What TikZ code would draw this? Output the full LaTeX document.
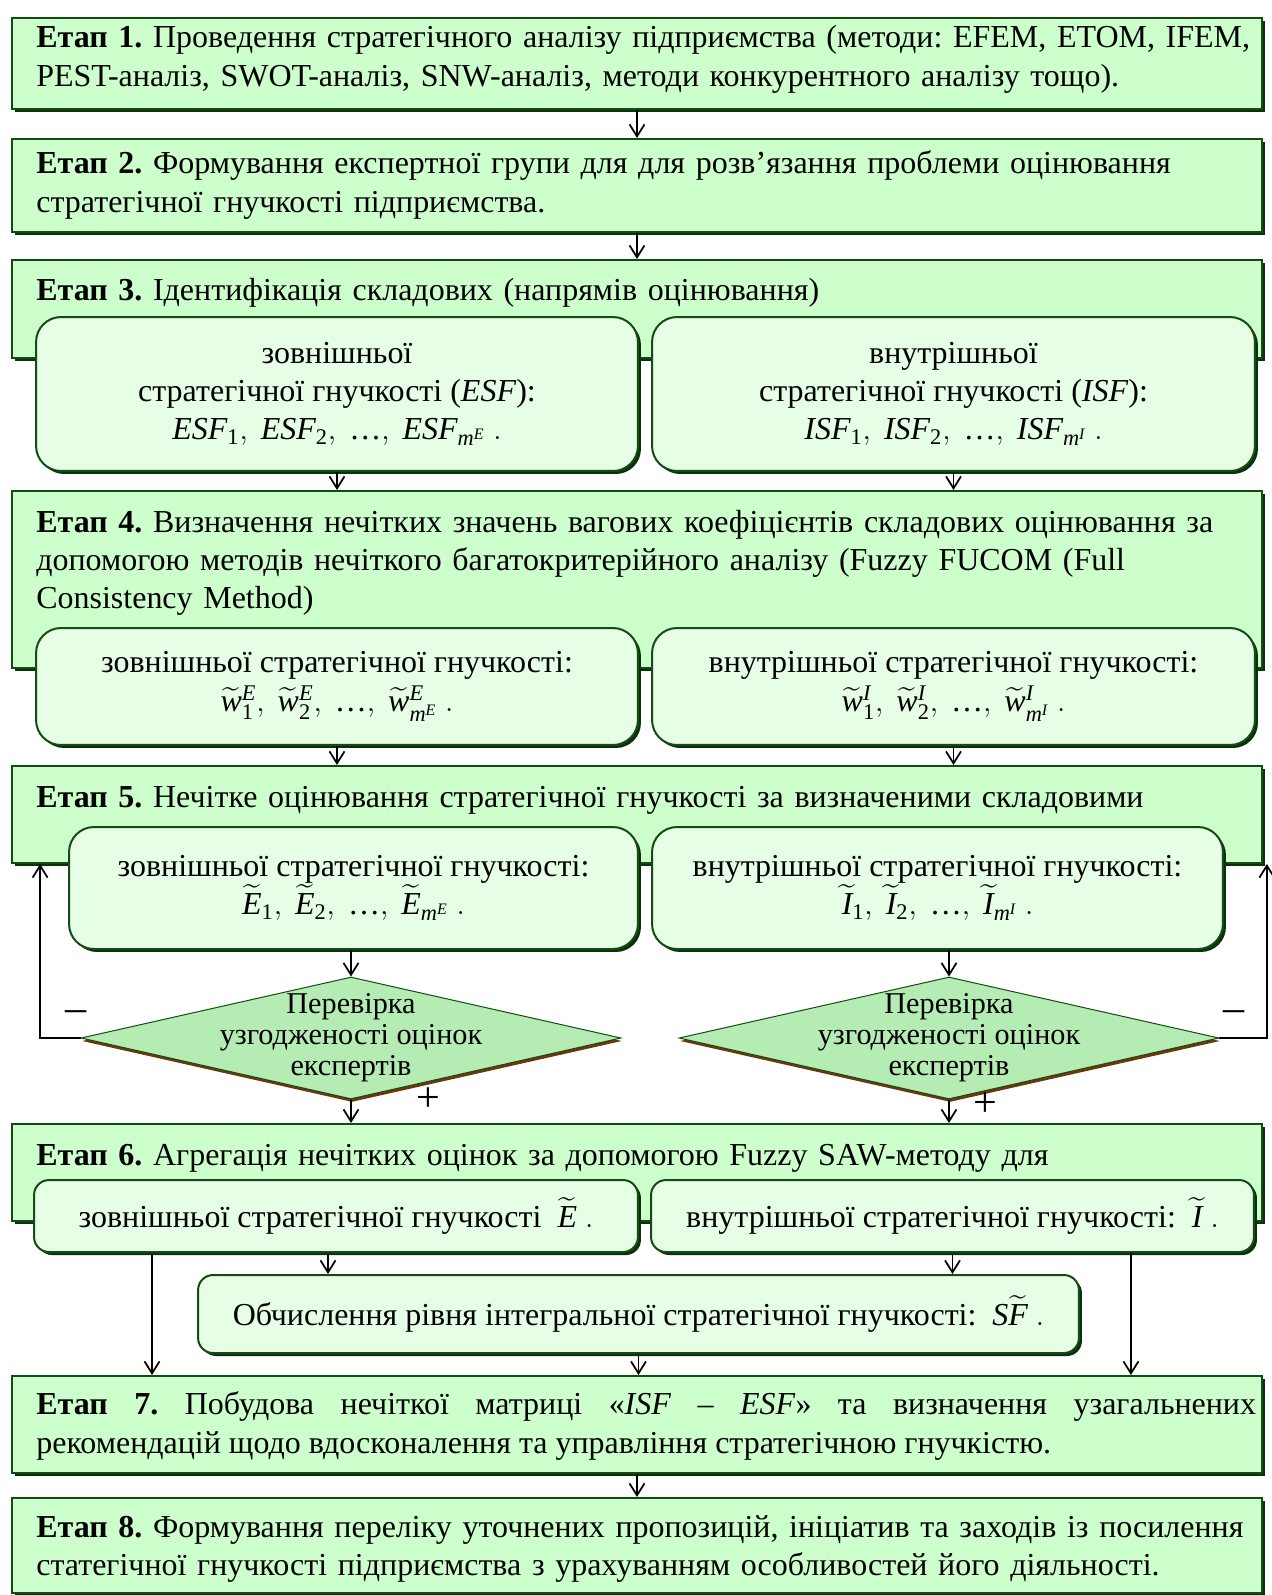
\documentclass[tikz,border=0pt]{standalone}
\usepackage{fontspec}
\usepackage{amsmath}
\setmainfont{Liberation Serif}
\frenchspacing
\usetikzlibrary{arrows.meta,shapes.geometric,shadows}
\definecolor{stagefill}{RGB}{204,255,204}
\definecolor{subfill}{RGB}{230,253,230}
\definecolor{checkfill}{RGB}{180,236,180}
\definecolor{edgegreen}{RGB}{20,75,20}
\definecolor{shadegreen}{RGB}{10,50,10}
\definecolor{shadebrown}{RGB}{110,55,10}
\newcommand{\vi}[1]{\text{\itshape #1}}
\newcommand{\vr}[1]{\text{#1}}
\newcommand{\vell}{\text{…}}
\begin{document}
\begin{tikzpicture}[x=0.02cm,y=-0.02cm,
    every node/.style={font=\fontsize{18.2}{21.8}\selectfont},
    stage/.style={draw=edgegreen,line width=0.04cm,fill=stagefill,minimum width=25cm,
      drop shadow={shadow xshift=0.06cm,shadow yshift=-0.06cm,fill=shadegreen,opacity=1}},
    stagetext/.style={anchor=west,inner sep=0pt,text width=24.8cm,align=left},
    subbox/.style={draw=edgegreen,line width=0.04cm,fill=subfill,rounded corners=0.5cm,
      align=center,inner sep=0pt,
      drop shadow={shadow xshift=0.06cm,shadow yshift=-0.06cm,fill=shadegreen,opacity=1}},
    check/.style={diamond,draw=edgegreen,line width=0.02cm,fill=checkfill,inner sep=0pt,
      minimum width=10.8cm,minimum height=2.44cm,
      drop shadow={shadow xshift=0.02cm,shadow yshift=-0.06cm,fill=shadebrown,opacity=1}},
    checktext/.style={align=center,inner sep=0pt,font=\fontsize{17.2}{17.6}\selectfont},
    flow/.style={-{Straight Barb[length=0.24cm,width=0.3cm]},line width=0.035cm},
    sign/.style={inner sep=0pt,font=\fontsize{24}{24}\selectfont}]
  \useasboundingbox (0,0) rectangle (1271,1595);

  % stages
  \node[stage,minimum height=1.82cm] (e1) at (637,63.5) {};
  \node[stagetext] (e1t) at (36,59.5) {\textbf{Етап 1.} Проведення стратегічного аналізу підприємства (методи: EFEM, ETOM, IFEM,\\
    PEST-аналіз, SWOT-аналіз, SNW-аналіз, методи конкурентного аналізу тощо).};
  \node[stage,minimum height=1.86cm] (e2) at (637,185.5) {};
  \node[stagetext] (e2t) at (36,185) {\textbf{Етап 2.} Формування експертної групи для для розв’язання проблеми оцінювання\\
    стратегічної гнучкості підприємства.};
  \node[stage,minimum height=1.96cm] (e3) at (637,309) {};
  \node[stagetext] (e3t) at (36,293) {\textbf{Етап 3.} Ідентифікація складових (напрямів оцінювання)};
  \node[stage,minimum height=3.54cm] (e4) at (637,579.5) {};
  \node[stagetext] (e4t) at (36,563) {\textbf{Етап 4.} Визначення нечітких значень вагових коефіцієнтів складових оцінювання за\\
    допомогою методів нечіткого багатокритерійного аналізу (Fuzzy FUCOM (Full\\
    Consistency Method)};
  \node[stage,minimum height=1.94cm] (e5) at (637,814.5) {};
  \node[stagetext] (e5t) at (36,800) {\textbf{Етап 5.} Нечітке оцінювання стратегічної гнучкості за визначеними складовими};
  \node[stage,minimum height=1.94cm] (e6) at (637,1172.5) {};
  \node[stagetext] (e6t) at (36,1158) {\textbf{Етап 6.} Агрегація нечітких оцінок за допомогою Fuzzy SAW-методу для};
  \node[stage,minimum height=1.94cm] (e7) at (637,1424.5) {};
  \node[stagetext,text width=24.4cm,align=justify] (e7t) at (36,1426) {\textbf{Етап 7.} Побудова нечіткої матриці «\textit{ISF} – \textit{ESF}» та визначення узагальнених\linebreak
    рекомендацій щодо вдосконалення та управління стратегічною гнучкістю.};
  \node[stage,minimum height=1.90cm] (e8) at (637,1545.5) {};
  \node[stagetext] (e8t) at (36,1549) {\textbf{Етап 8.} Формування переліку уточнених пропозицій, ініціатив та заходів із посилення\\
    статегічної гнучкості підприємства з урахуванням особливостей його діяльності.};

  % components
  \node[subbox,minimum width=12.04cm,minimum height=3.08cm] (s3l) at (337,394) {зовнішньої\\
    стратегічної гнучкості (\textit{ESF}):\\
    $\vi{ESF}_{\vr{1}},\ \vi{ESF}_{\vr{2}},\ \vell,\ \vi{ESF}_{\vi{m}^{\vi{E}}}\ .$};
  \node[subbox,minimum width=12.06cm,minimum height=3.08cm] (s3r) at (953.5,394) {внутрішньої\\
    стратегічної гнучкості (\textit{ISF}):\\
    $\vi{ISF}_{\vr{1}},\ \vi{ISF}_{\vr{2}},\ \vell,\ \vi{ISF}_{\vi{m}^{\vi{I}}}\ .$};
  \node[subbox,minimum width=12.04cm,minimum height=2.34cm] (s4l) at (337,686.5) {зовнішньої стратегічної гнучкості:\\
    $\widetilde{\vi{w}}{}^{\vi{E}}_{\vr{1}},\ \widetilde{\vi{w}}{}^{\vi{E}}_{\vr{2}},\ \vell,\ \widetilde{\vi{w}}{}^{\vi{E}}_{\vi{m}^{\vi{E}}}\ .$};
  \node[subbox,minimum width=12.06cm,minimum height=2.34cm] (s4r) at (953.5,686.5) {внутрішньої стратегічної гнучкості:\\
    $\widetilde{\vi{w}}{}^{\vi{I}}_{\vr{1}},\ \widetilde{\vi{w}}{}^{\vi{I}}_{\vr{2}},\ \vell,\ \widetilde{\vi{w}}{}^{\vi{I}}_{\vi{m}^{\vi{I}}}\ .$};
  \node[subbox,minimum width=11.38cm,minimum height=2.44cm] (s5l) at (353.5,888) {зовнішньої стратегічної гнучкості:\\
    $\widetilde{\vi{E}}_{\vr{1}},\ \widetilde{\vi{E}}_{\vr{2}},\ \vell,\ \widetilde{\vi{E}}_{\vi{m}^{\vi{E}}}\ .$};
  \node[subbox,minimum width=11.42cm,minimum height=2.44cm] (s5r) at (937.5,888) {внутрішньої стратегічної гнучкості:\\
    $\widetilde{\vi{I}}_{\vr{1}},\ \widetilde{\vi{I}}_{\vr{2}},\ \vell,\ \widetilde{\vi{I}}_{\vi{m}^{\vi{I}}}\ .$};
  \node[subbox,rounded corners=0.3cm,minimum width=12.08cm,minimum height=1.44cm] (s6l) at (336,1216)
    {зовнішньої стратегічної гнучкості \ $\widetilde{\vi{E}}\ .$};
  \node[subbox,rounded corners=0.3cm,minimum width=12.06cm,minimum height=1.44cm] (s6r) at (952.5,1216)
    {внутрішньої стратегічної гнучкості: \ $\widetilde{\vi{I}}\ .$};
  \node[subbox,rounded corners=0.3cm,minimum width=17.62cm,minimum height=1.56cm] (sf) at (638.5,1314)
    {Обчислення рівня інтегральної стратегічної гнучкості: \ $\vi{S}\widetilde{\vi{F}}\ .$};

  % checks
  \node[check] (d1) at (351,1038) {};
  \node[checktext] (d1t) at (d1) {Перевірка\\ узгодженості оцінок\\ експертів};
  \node[check] (d2) at (949,1038) {};
  \node[checktext] (d2t) at (d2) {Перевірка\\ узгодженості оцінок\\ експертів};
  \node[sign] (m1) at (76,1016) {–};
  \node[sign] (m2) at (1234,1016) {–};
  \node[sign] (p1) at (428,1100) {+};
  \node[sign] (p2) at (985,1105) {+};

  \begin{scope}[flow]
    \draw (e1.south) -- (e2.north);
    \draw (e2.south) -- (e3.north);
    \draw (s3l.south) -- (s3l.south |- e4.north);
    \draw (s3r.south) -- (s3r.south |- e4.north);
    \draw (s4l.south) -- (s4l.south |- e5.north);
    \draw (s4r.south) -- (s4r.south |- e5.north);
    \draw (s5l.south -| d1.north) -- (d1.north);
    \draw (s5r.south -| d2.north) -- (d2.north);
    \draw (d1.west) -| ([xshift=0.58cm]e5.south west);
    \draw (d2.east) -| ([xshift=0.08cm]e5.south east);
    \draw (d1.south) -- (d1.south |- e6.north);
    \draw (d2.south) -- (d2.south |- e6.north);
    \draw ([xshift=-0.16cm]s6l.south) -- ([xshift=-0.16cm]s6l.south |- sf.north);
    \draw (s6r.south) -- (s6r.south |- sf.north);
    \draw ([xshift=2.38cm]s6l.south west) -- ([xshift=2.38cm]s6l.south west |- e7.north);
    \draw ([xshift=-2.48cm]s6r.south east) -- ([xshift=-2.48cm]s6r.south east |- e7.north);
    \draw (sf.south) -- (sf.south |- e7.north);
    \draw (e7.south) -- (e8.north);
  \end{scope}
\end{tikzpicture}
\end{document}
